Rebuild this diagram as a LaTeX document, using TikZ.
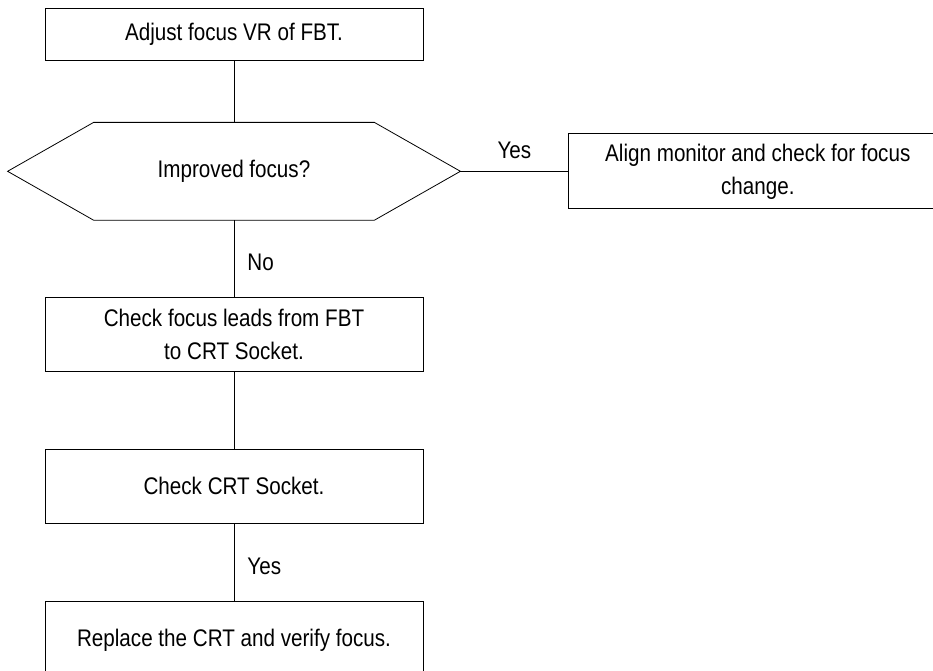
\documentclass[tikz,border=0pt]{standalone}
\usepackage{fontspec}
\setmainfont[FakeStretch=0.86]{Liberation Sans}
\usetikzlibrary{positioning}

\begin{document}
\begin{tikzpicture}[x=1pt, y=-1pt, line width=0.8pt, node distance=77pt,
  font=\fontsize{24}{33}\selectfont,
  stepbox/.style={rectangle, draw, align=center, minimum width=378pt, minimum height=74pt, inner sep=0pt},
  label/.style={inner sep=0pt}]

  \useasboundingbox (0,0) rectangle (933,671);

  \node[stepbox, minimum height=52pt] (adjust) at (234,34) {Adjust focus VR of FBT.};
  \node[minimum width=452pt, minimum height=97pt, inner sep=0pt] (improved) [below=62pt of adjust] {Improved focus?};
  \draw (improved.west) -- ([xshift=86pt]improved.north west) -- ([xshift=-86pt]improved.north east)
     -- (improved.east) -- ([xshift=-86pt]improved.south east) -- ([xshift=86pt]improved.south west) -- cycle;
  \node[stepbox, minimum width=378pt, minimum height=75pt] (align) [right=108pt of improved] {Align monitor and check for focus\\change.};
  \node[stepbox] (leads) [below=of improved] {Check focus leads from FBT\\to CRT Socket.};
  \node[stepbox] (socket) [below=of leads] {Check CRT Socket.};
  \node[stepbox, minimum height=78pt] (replace) [below=of socket] {Replace the CRT and verify focus.};

  \draw (adjust) -- (improved.north);
  \draw (improved.east) -- node[label, above=12pt] {Yes} (align);
  \draw (improved.south) -- node[label, right=13pt, pos=0.55] {No} (leads);
  \draw (leads) -- (socket);
  \draw (socket) -- node[label, right=13pt, pos=0.55] {Yes} (replace);

\end{tikzpicture}
\end{document}
